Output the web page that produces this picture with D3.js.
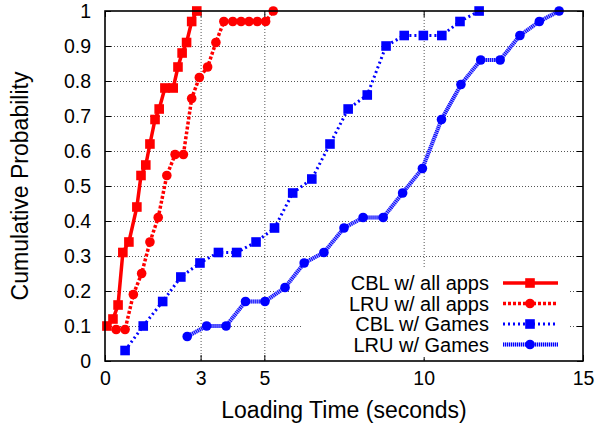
<!DOCTYPE html>
<html><head><meta charset="utf-8">
<script src="https://cdn.jsdelivr.net/npm/d3@7/dist/d3.min.js"></script>
<style>html,body{margin:0;padding:0;background:#fff;} svg{display:block;font-family:"Liberation Sans",Arial,sans-serif;}</style>
</head><body><div id="chart"></div>
<script>
// ---- data ----
const xTicks = [0, 3, 5, 10, 15];
const yTicks = [0, 0.1, 0.2, 0.3, 0.4, 0.5, 0.6, 0.7, 0.8, 0.9, 1];
const seriesNames = ["CBL w/ all apps", "LRU w/ all apps", "CBL w/ Games", "LRU w/ Games"];

const cblAllX = [0.06, 0.25, 0.41, 0.56, 0.75, 1.00, 1.13, 1.28, 1.41, 1.57, 1.70, 1.88, 2.14, 2.29, 2.42, 2.56, 2.72, 2.88];
const cblAllY = [0.10, 0.12, 0.16, 0.31, 0.34, 0.44, 0.53, 0.56, 0.62, 0.69, 0.72, 0.78, 0.78, 0.84, 0.88, 0.91, 0.97, 1.00];

const lruAllX = [0.35, 0.63, 0.89, 1.15, 1.41, 1.67, 1.94, 2.20, 2.46, 2.72, 2.96, 3.22, 3.48, 3.73, 4.01, 4.27, 4.52, 4.78, 5.04, 5.28];
const lruAllY = [0.09, 0.09, 0.19, 0.25, 0.34, 0.41, 0.53, 0.59, 0.59, 0.75, 0.81, 0.84, 0.91, 0.97, 0.97, 0.97, 0.97, 0.97, 0.97, 1.00];

const cblGamesX = [0.63, 1.20, 1.81, 2.38, 2.98, 3.56, 4.13, 4.74, 5.32, 5.89, 6.49, 7.06, 7.63, 8.23, 8.82, 9.39, 9.99, 10.57, 11.14, 11.74];
const cblGamesY = [0.03, 0.10, 0.17, 0.24, 0.28, 0.31, 0.31, 0.34, 0.38, 0.48, 0.52, 0.62, 0.72, 0.76, 0.90, 0.93, 0.93, 0.93, 0.97, 1.00];

const lruGamesX = [2.58, 3.19, 3.80, 4.41, 5.02, 5.65, 6.25, 6.87, 7.50, 8.10, 8.73, 9.34, 9.96, 10.56, 11.17, 11.79, 12.40, 13.02, 13.63, 14.25];
const lruGamesY = [0.07, 0.10, 0.10, 0.17, 0.17, 0.21, 0.28, 0.31, 0.38, 0.41, 0.41, 0.48, 0.55, 0.69, 0.79, 0.86, 0.86, 0.93, 0.97, 1.00];

// ---- layout ----
const W = 597, H = 430;
const L = 105, R = 583, T = 11, B = 361;
const x = d3.scaleLinear().domain([0, 15]).range([L, R]);
const y = d3.scaleLinear().domain([0, 1]).range([B, T]);

const svg = d3.select("#chart").append("svg").attr("width", W).attr("height", H);

// grid
const g = svg.append("g").attr("stroke", "#555").attr("stroke-width", 1).attr("stroke-dasharray", "1,2");
g.selectAll("line.gx").data(xTicks.filter(v => v > 0 && v < 15)).join("line")
  .attr("x1", d => x(d) + 0.5).attr("x2", d => x(d) + 0.5).attr("y1", T).attr("y2", B);
g.selectAll("line.gy").data(yTicks.filter(v => v > 0 && v < 1)).join("line")
  .attr("y1", d => Math.round(y(d)) + 0.5).attr("y2", d => Math.round(y(d)) + 0.5).attr("x1", L).attr("x2", R);

// axes (inward ticks, mirrored)
const fs = 19.5;
const axL = svg.append("g").attr("transform", `translate(${L},0)`)
  .call(d3.axisLeft(y).tickValues(yTicks).tickFormat(d => d3.format("")(+d.toFixed(1))).tickSizeInner(-6).tickSizeOuter(0).tickPadding(14));
const axR = svg.append("g").attr("transform", `translate(${R},0)`)
  .call(d3.axisRight(y).tickValues(yTicks).tickSizeInner(-6).tickSizeOuter(0).tickFormat(""));
const axB = svg.append("g").attr("transform", `translate(0,${B})`)
  .call(d3.axisBottom(x).tickValues(xTicks).tickFormat(d3.format("d")).tickSizeInner(-6).tickSizeOuter(0).tickPadding(10));
const axT = svg.append("g").attr("transform", `translate(0,${T})`)
  .call(d3.axisTop(x).tickValues(xTicks).tickSizeInner(-6).tickSizeOuter(0).tickFormat(""));
[axL, axR, axB, axT].forEach(a => {
  a.select(".domain").remove();
  a.selectAll(".tick line").attr("stroke", "#000").attr("stroke-width", 1);
  a.selectAll("text").attr("font-size", fs).attr("font-family", "Liberation Sans, Arial, sans-serif").attr("fill", "#000");
});

// legend background (opaque key)
svg.append("rect").attr("x", 303).attr("y", 267).attr("width", 267).attr("height", 90).attr("fill", "#fff");

// series definitions
const series = [
  {name: seriesNames[0], xs: cblAllX, ys: cblAllY, color: "#ff0000", dash: null, width: 3.5, marker: "square"},
  {name: seriesNames[1], xs: lruAllX, ys: lruAllY, color: "#ff0000", dash: "3,2", width: 3.5, marker: "circle"},
  {name: seriesNames[2], xs: cblGamesX, ys: cblGamesY, color: "#0000ff", dash: "2,3", width: 3, marker: "square"},
  {name: seriesNames[3], xs: lruGamesX, ys: lruGamesY, color: "#0000ff", dash: "1,1", width: 4, marker: "circle", halo: "#a8a8ff"}
];

const line = d3.line().x(d => x(d[0])).y(d => y(d[1]));

function drawMarker(sel, type, cx, cy, color) {
  if (type === "square") {
    sel.append("rect").attr("x", cx - 4.8).attr("y", cy - 4.8).attr("width", 9.6).attr("height", 9.6).attr("fill", color);
  } else {
    sel.append("circle").attr("cx", cx).attr("cy", cy).attr("r", 4.8).attr("fill", color);
  }
}

function drawLine(sel, s, d) {
  if (s.halo) sel.append("path").attr("d", d).attr("fill", "none").attr("stroke", s.halo).attr("stroke-width", s.width);
  const p = sel.append("path").attr("d", d).attr("fill", "none").attr("stroke", s.color).attr("stroke-width", s.width);
  if (s.dash) p.attr("stroke-dasharray", s.dash);
}

// draw in reverse so red is on top
series.slice().reverse().forEach(s => {
  const pts = s.xs.map((v, i) => [v, s.ys[i]]);
  const sg = svg.append("g");
  drawLine(sg, s, line(pts));
  pts.forEach(p => drawMarker(sg, s.marker, x(p[0]), y(p[1]), s.color));
});

// legend
const legY = [283, 303.5, 324, 344.5];
const lg = svg.append("g");
series.forEach((s, i) => {
  const yy = legY[i];
  lg.append("text").attr("x", 489).attr("y", yy).attr("dy", "0.35em").attr("text-anchor", "end")
    .attr("font-size", 20).text(s.name);
  drawLine(lg, s, `M503,${yy}L558,${yy}`);
  drawMarker(lg, s.marker, 530, yy, s.color);
});

// border
svg.append("rect").attr("x", L).attr("y", T).attr("width", R - L).attr("height", B - T)
  .attr("fill", "none").attr("stroke", "#000").attr("stroke-width", 1.6);

// axis titles
svg.append("text").attr("x", (L + R) / 2).attr("y", 418).attr("text-anchor", "middle").attr("font-size", 23).text("Loading Time (seconds)");
svg.append("text").attr("transform", `translate(28,${(T + B) / 2}) rotate(-90)`).attr("text-anchor", "middle").attr("font-size", 23).text("Cumulative Probability");
</script></body></html>
